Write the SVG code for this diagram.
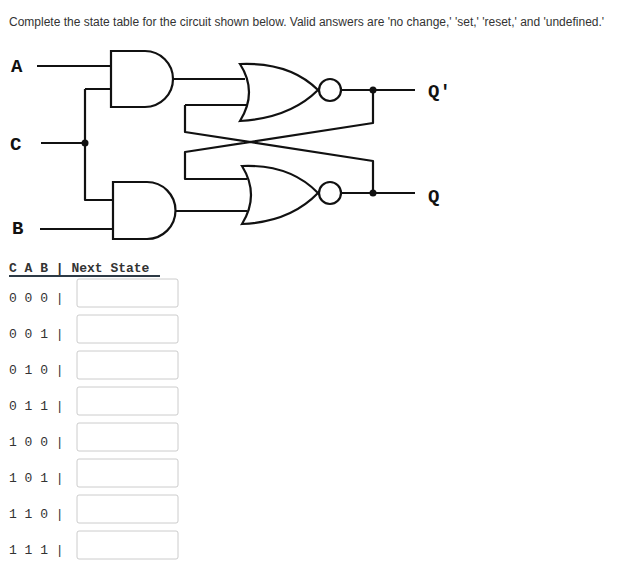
<svg xmlns="http://www.w3.org/2000/svg" width="620" height="576" viewBox="0 0 620 576">
<style>
.w{fill:none;stroke:#111;stroke-width:2.2;stroke-linejoin:round}
.g{fill:#fff;stroke:#111;stroke-width:2.2}
.lbl{font-family:"Liberation Mono",monospace;font-weight:bold;font-size:19px;fill:#111}
.t{font-family:"Liberation Mono",monospace;font-size:13px;fill:#333}
.box{fill:#fff;stroke:#ccc;stroke-width:1}
</style>
<rect width="620" height="576" fill="#fff"/>
<text x="9" y="26" font-family="Liberation Sans,Arial,sans-serif" font-size="12" fill="#333">Complete the state table for the circuit shown below. Valid answers are 'no change,' 'set,' 'reset,' and 'undefined.'</text>
<g id="labels">
<text class="lbl" x="11" y="72">A</text>
<text class="lbl" x="10" y="150">C</text>
<text class="lbl" x="12" y="234">B</text>
<text class="lbl" x="428" y="97">Q′</text>
<text class="lbl" x="428" y="202">Q</text>
</g>
<g id="connectors">
<path class="w" d="M37 66H111M85 89H111M41 143H85M85 89V200H113M40 229H113M173 79H245M175 211H247M185 105H247M185 105V132L373 161V193M341 90H415M373 90V123L185 152V179H247M341 193H415"/>
<circle cx="85" cy="143" r="3.5" fill="#111"/>
<circle cx="373" cy="90" r="3.5" fill="#111"/>
<circle cx="373" cy="193" r="3.5" fill="#111"/>
</g>
<g id="and1"><path class="g" d="M111 51H145A28 28 0 0 1 145 107H111Z"/></g>
<g id="and2"><path class="g" d="M113 182H147A28.5 28.5 0 0 1 147 239H113Z"/></g>
<g id="nor1"><path class="g" d="M240 64Q290 62 318 90Q290 118 240 121Q258 92 240 64Z"/><circle class="g" cx="330" cy="90" r="11"/></g>
<g id="nor2"><path class="g" d="M242 166Q290 164 318 193Q290 222 242 224Q260 195 242 166Z"/><circle class="g" cx="330" cy="193" r="11"/></g>
<g id="table">
<text class="t" x="9" y="272" font-weight="bold">C A B | Next State</text>
<rect x="9" y="275" width="151" height="2" fill="#2d3a45"/>
<g class="t">
<text x="9" y="302">0 0 0 |</text><rect class="box" x="77" y="279" width="101" height="28" rx="2"/>
<text x="9" y="338">0 0 1 |</text><rect class="box" x="77" y="315" width="101" height="28" rx="2"/>
<text x="9" y="374">0 1 0 |</text><rect class="box" x="77" y="351" width="101" height="28" rx="2"/>
<text x="9" y="410">0 1 1 |</text><rect class="box" x="77" y="387" width="101" height="28" rx="2"/>
<text x="9" y="446">1 0 0 |</text><rect class="box" x="77" y="423" width="101" height="28" rx="2"/>
<text x="9" y="482">1 0 1 |</text><rect class="box" x="77" y="459" width="101" height="28" rx="2"/>
<text x="9" y="518">1 1 0 |</text><rect class="box" x="77" y="495" width="101" height="28" rx="2"/>
<text x="9" y="554">1 1 1 |</text><rect class="box" x="77" y="531" width="101" height="28" rx="2"/>
</g>
</g>
</svg>
